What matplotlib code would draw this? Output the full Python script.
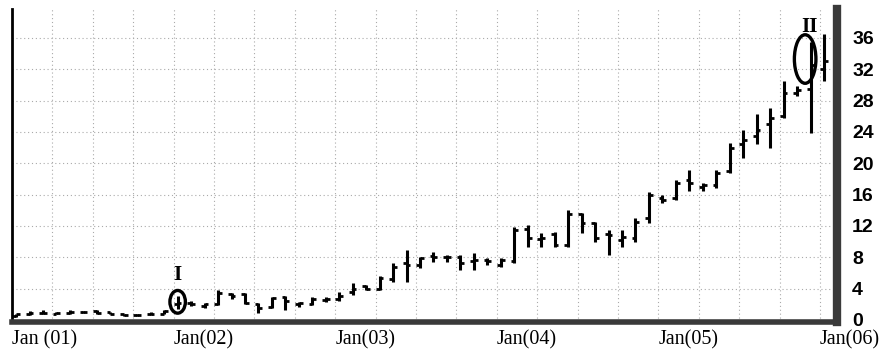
import numpy as np
import matplotlib
matplotlib.use("Agg")
import matplotlib.pyplot as plt
from matplotlib.patches import Ellipse
import matplotlib.transforms as mtransforms

# monthly OHLC, Jan 2001 .. Jan 2006
opens = [0.5, 0.8, 0.9, 0.8, 0.9, 1.0, 1.1, 1.0, 0.8, 0.6, 0.7, 0.8,
         2.0, 2.2, 1.8, 2.0, 3.3, 3.3, 2.0, 1.6, 2.9, 2.0, 2.0, 2.5,
         2.6, 3.6, 4.3, 3.9, 5.2, 7.2, 7.0, 8.2, 8.0, 8.0, 7.5, 7.6,
         7.0, 7.5, 11.6, 10.3, 11.0, 9.5, 13.5, 12.3, 11.0, 10.2, 10.5, 13.0,
         15.5, 15.6, 17.8, 17.0, 17.2, 19.0, 22.5, 23.5, 25.0, 26.0, 29.0, 29.5,
         32.0]
highs = [0.8, 1.1, 1.2, 1.0, 1.2, 1.1, 1.2, 1.0, 0.8, 0.8, 1.0, 1.3,
         3.0, 2.4, 2.1, 3.8, 3.4, 3.4, 2.2, 2.9, 3.1, 2.3, 2.9, 2.9,
         3.6, 4.7, 4.5, 5.6, 7.3, 8.9, 8.0, 8.6, 8.3, 8.3, 8.5, 7.9,
         7.9, 11.8, 12.1, 11.1, 11.2, 14.0, 13.7, 12.5, 11.5, 11.5, 13.0, 16.3,
         15.9, 17.8, 19.1, 17.5, 19.1, 22.6, 24.2, 26.3, 27.1, 30.5, 29.9, 35.5,
         36.5]
lows = [0.3, 0.6, 0.7, 0.7, 0.8, 0.9, 0.8, 0.7, 0.5, 0.5, 0.6, 0.7,
        1.4, 1.8, 1.5, 1.9, 2.6, 2.0, 0.9, 1.5, 1.3, 1.6, 1.9, 2.3,
        2.4, 3.2, 3.8, 3.8, 4.8, 4.8, 6.6, 7.4, 7.4, 6.4, 6.4, 7.0,
        6.7, 7.3, 9.3, 9.3, 9.3, 9.3, 11.1, 9.9, 8.3, 9.3, 9.9, 12.3,
        14.9, 15.3, 16.5, 16.5, 16.8, 18.7, 20.6, 22.5, 22.0, 25.8, 28.6, 23.9,
        30.5]
closes = [0.7, 0.9, 0.9, 0.9, 1.0, 1.0, 0.9, 0.8, 0.6, 0.6, 0.8, 1.1,
          2.2, 2.0, 2.0, 3.4, 3.0, 2.1, 1.5, 2.8, 2.4, 2.1, 2.7, 2.6,
          3.1, 4.0, 4.0, 5.3, 6.8, 7.0, 7.9, 8.0, 8.0, 7.3, 7.6, 7.5,
          7.6, 11.5, 10.5, 10.5, 9.5, 13.5, 12.4, 10.5, 10.8, 10.6, 12.5, 16.0,
          15.3, 17.5, 17.5, 17.2, 18.8, 22.0, 23.0, 24.2, 25.8, 29.0, 29.3, 32.5,
          33.0]

year_labels = ["Jan (01)", "Jan(02)", "Jan(03)", "Jan(04)", "Jan(05)", "Jan(06)"]
y_ticks = [0, 4, 8, 12, 16, 20, 24, 28, 32, 36]

x = np.arange(len(opens)) + 0.3

fig = plt.figure(figsize=(8.84, 3.56), dpi=100)
ax = fig.add_axes([0.0136, 0.095, 0.933, 0.88])

# grid
for gx in np.arange(3, 61, 3):
    ax.axvline(gx, color="#aaaaaa", lw=0.8, ls=(0, (1, 2.5)), zorder=0)
for gy in y_ticks[1:]:
    ax.axhline(gy, color="#aaaaaa", lw=0.8, ls=(0, (1, 2.5)), zorder=0)

# ohlc bars
tick = 0.28
ax.vlines(x, lows, highs, color="black", lw=2.2, zorder=3)
ax.hlines(opens, x - tick, x, color="black", lw=2.0, zorder=3)
ax.hlines(closes, x, x + tick, color="black", lw=2.0, zorder=3)

# annotations
ax.add_patch(Ellipse((12.3, 2.3), 1.15, 2.9, fill=False, ec="black", lw=2.4, zorder=4))
ax.text(12.3, 4.4, "I", ha="center", va="bottom", fontsize=15, fontweight="bold",
        family="Liberation Serif")
ax.add_patch(Ellipse((58.9, 33.3), 1.6, 6.2, fill=False, ec="black", lw=2.4, zorder=4))
ax.text(59.2, 36.1, "II", ha="center", va="bottom", fontsize=15, fontweight="bold",
        family="Liberation Serif")

ax.set_xlim(0, 61.25)
ax.set_ylim(-0.3, 39.7)

ax.set_xticks(np.arange(0, 61, 12))
ax.set_xticklabels(year_labels, family="Liberation Serif", fontsize=14.5, ha="left")
shift = mtransforms.ScaledTranslation(-7 / 100, 0, fig.dpi_scale_trans)
for lab in ax.get_xticklabels()[1:]:
    lab.set_transform(lab.get_transform() + shift)
ax.tick_params(axis="x", length=0, pad=6)

ax.yaxis.tick_right()
ax.set_yticks(y_ticks)
ax.set_yticklabels([str(v) for v in y_ticks], family="Liberation Sans",
                   fontweight="bold", fontsize=14)
ax.tick_params(axis="y", length=0, pad=11)

ax.spines["top"].set_visible(False)
ax.spines["left"].set_linewidth(2.0)
ax.spines["left"].set_color("black")
ax.spines["bottom"].set_linewidth(4.0)
ax.spines["bottom"].set_color("#3a3a3a")
ax.spines["right"].set_linewidth(6.0)
ax.spines["right"].set_color("#3a3a3a")

fig.savefig("out.png", dpi=100)
